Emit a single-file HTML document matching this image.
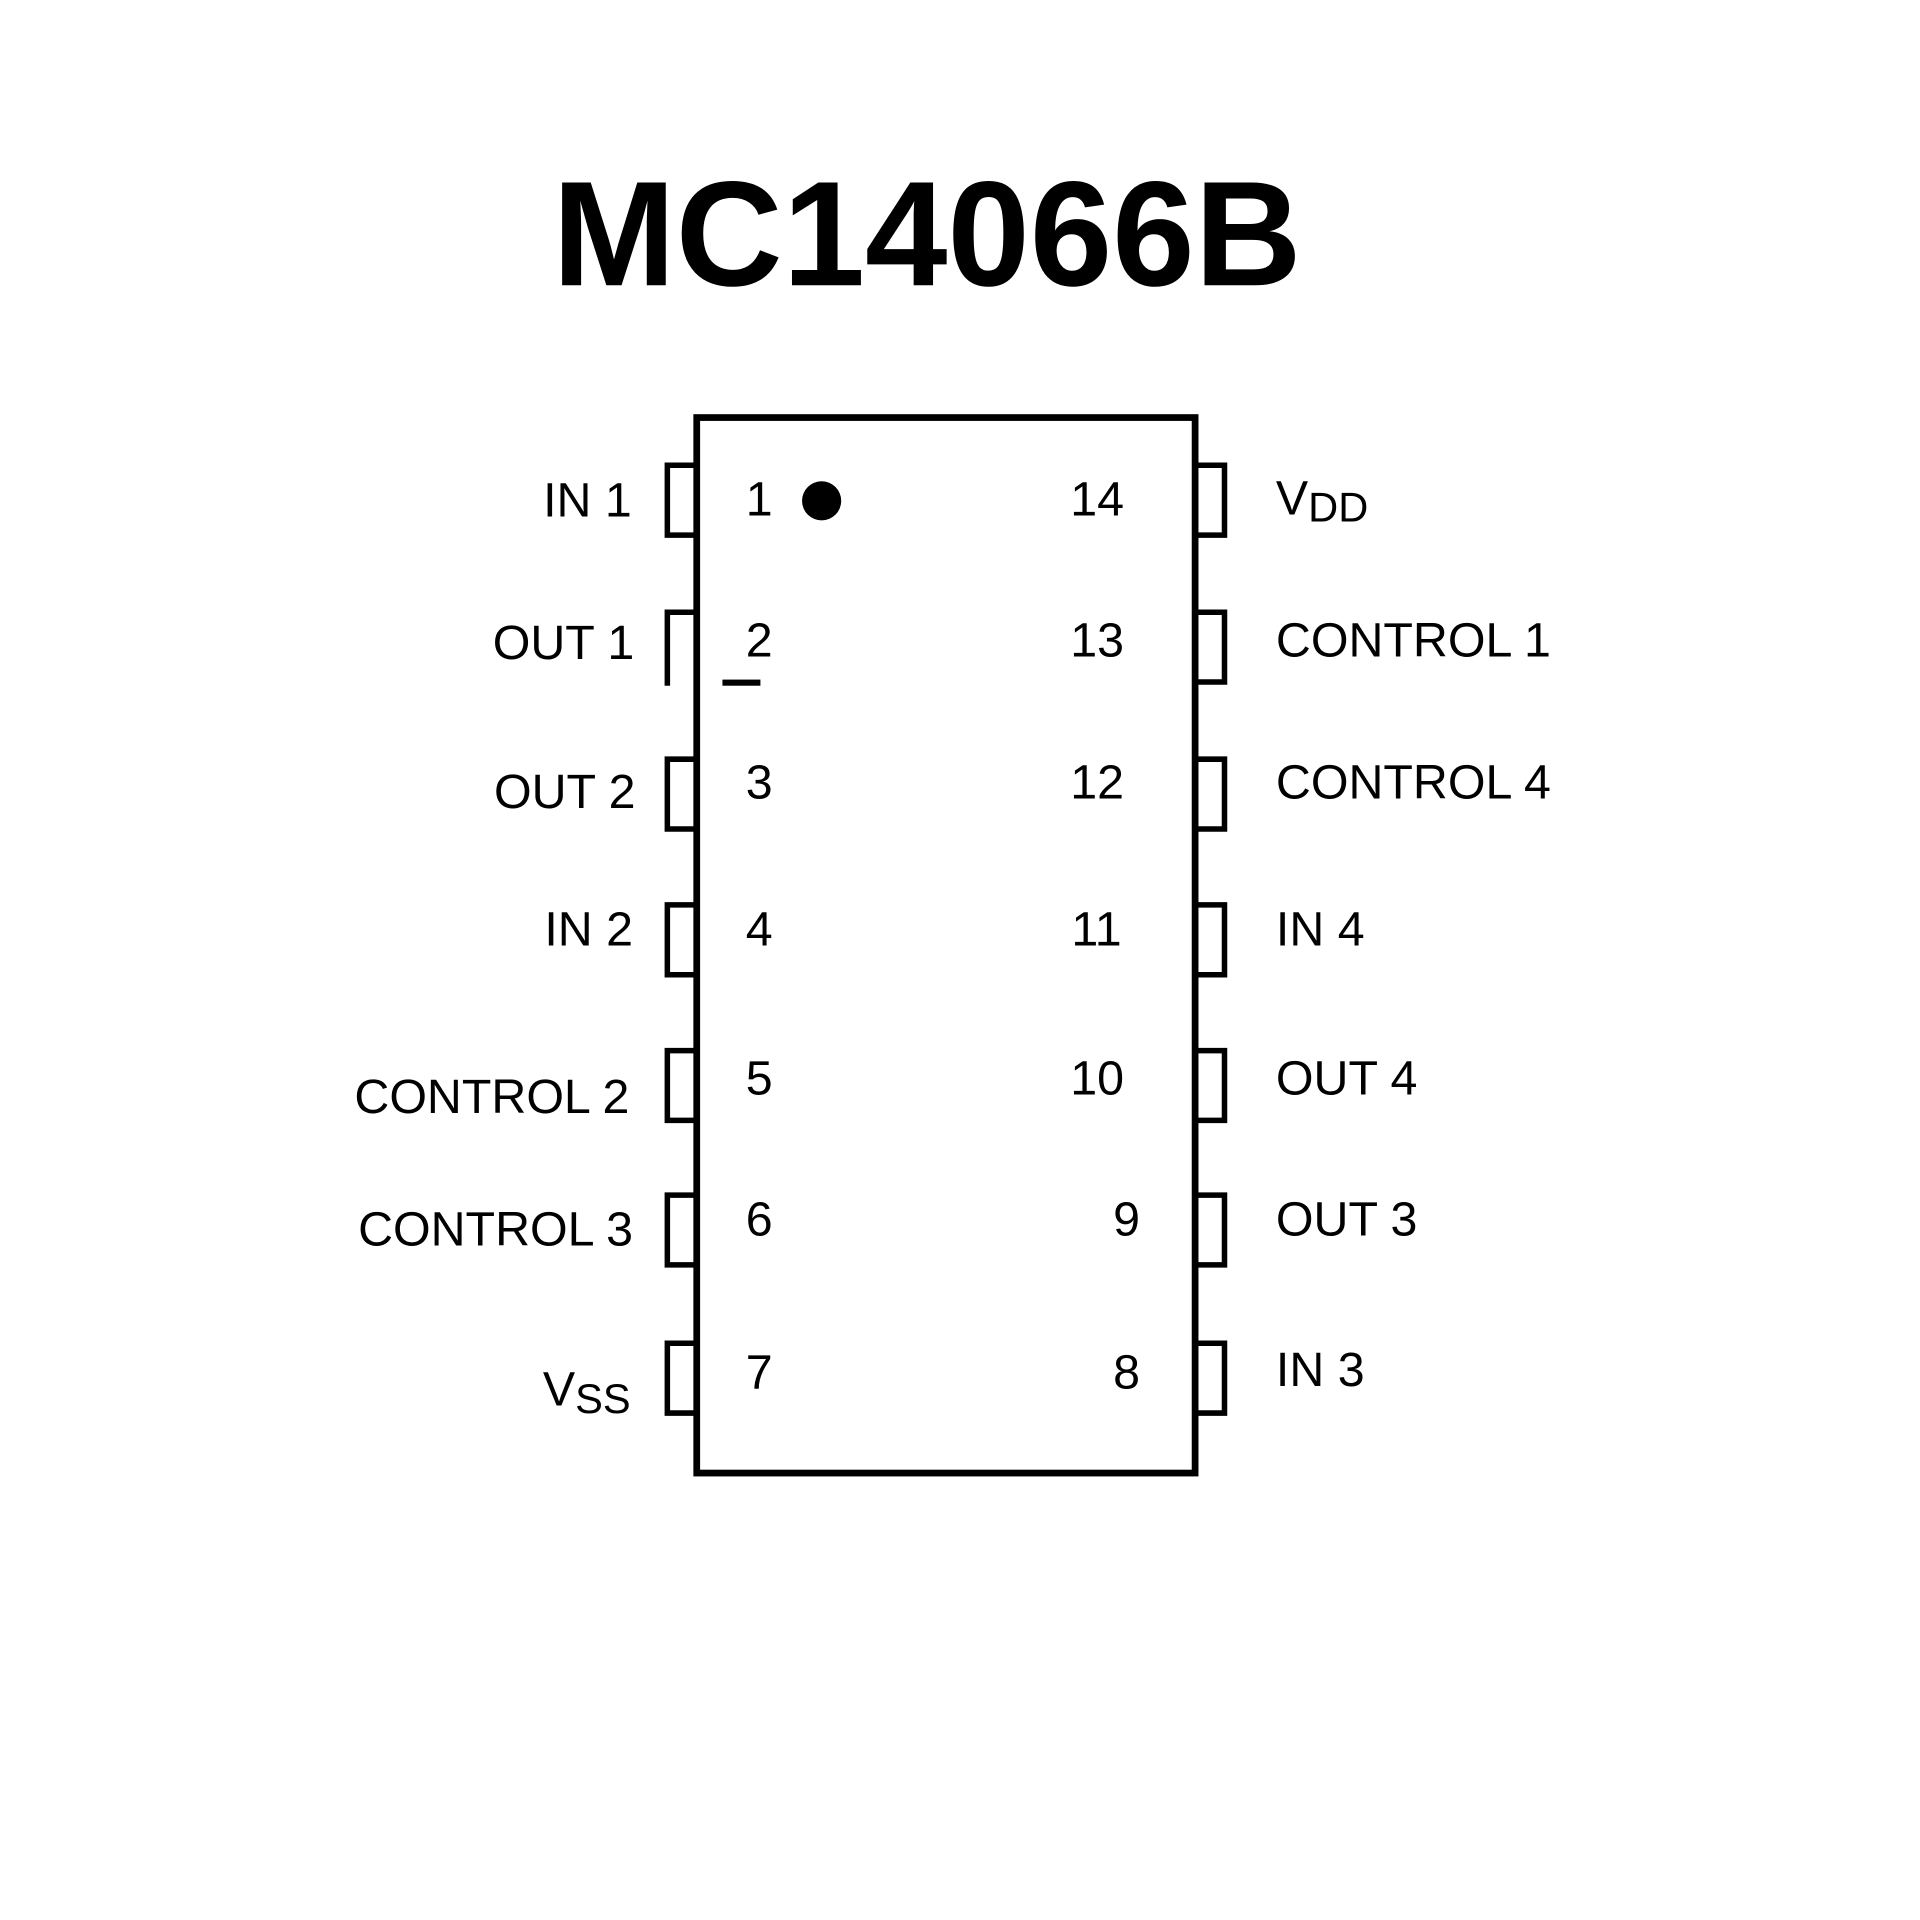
<!DOCTYPE html>
<html><head><style>html,body{margin:0;padding:0;background:#fff}svg{display:block}</style></head><body>
<svg width="1920" height="1920" viewBox="0 0 1568 1568" xmlns="http://www.w3.org/2000/svg">
<rect width="1568" height="1568" fill="#fff"/>
<text x="757" y="233" text-anchor="middle" font-family="Liberation Sans, sans-serif" font-weight="bold" font-size="122" textLength="612" lengthAdjust="spacingAndGlyphs">MC14066B</text>
<rect x="569" y="341" width="407" height="862" fill="none" stroke="#000" stroke-width="5.5"/>
<g fill="none" stroke="#000" stroke-width="4.5">
<path d="M568 380H545V437H568"/><path d="M568 500H545V560"/><path d="M568 620H545V677H568"/><path d="M568 739H545V796H568"/><path d="M568 858H545V915H568"/><path d="M568 976H545V1033H568"/><path d="M568 1097H545V1154H568"/>
<path d="M977 380H1000V437H977"/><path d="M977 500H1000V557H977"/><path d="M977 620H1000V677H977"/><path d="M977 739H1000V796H977"/><path d="M977 858H1000V915H977"/><path d="M977 976H1000V1033H977"/><path d="M977 1097H1000V1154H977"/>
</g>
<circle cx="671" cy="409" r="16" fill="#000"/>
<rect x="590" y="555" width="31" height="5" fill="#000"/>
<g font-family="Liberation Sans, sans-serif" font-size="39.5" fill="#000">
<g text-anchor="end">
<text x="516" y="422">IN 1</text><text x="518" y="538">OUT 1</text><text x="519" y="660">OUT 2</text><text x="517" y="772">IN 2</text><text x="514" y="909">CONTROL 2</text><text x="517" y="1017">CONTROL 3</text>
<text x="918" y="421">14</text><text x="918" y="536">13</text><text x="918" y="652">12</text><text x="916" y="772">11</text><text x="918" y="894">10</text><text x="931" y="1009">9</text><text x="931" y="1134">8</text>
<text x="515" y="1148">V<tspan font-size="34" dy="6">SS</tspan></text>
</g>
<g text-anchor="middle">
<text x="620" y="421">1</text><text x="620" y="536">2</text><text x="620" y="652">3</text><text x="620" y="772">4</text><text x="620" y="894">5</text><text x="620" y="1009">6</text><text x="620" y="1134">7</text>
</g>
<text x="1042" y="420">V<tspan font-size="34" dy="6">DD</tspan></text>
<text x="1042" y="536">CONTROL 1</text><text x="1042" y="652">CONTROL 4</text><text x="1042" y="772">IN 4</text><text x="1042" y="894">OUT 4</text><text x="1042" y="1009">OUT 3</text><text x="1042" y="1132">IN 3</text>
</g>
</svg>
</body></html>
